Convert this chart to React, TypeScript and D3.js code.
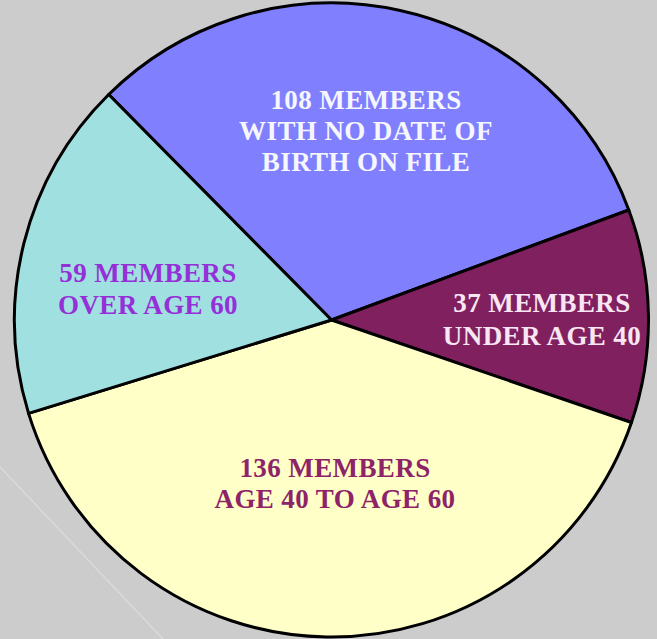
import React from "react";
import * as d3 from "d3";

const categories = ["NO DATE OF BIRTH", "UNDER AGE 40", "AGE 40 TO AGE 60", "OVER AGE 60"];
const values = [108, 37, 136, 59];
const labelLines = [
  ["108 MEMBERS", "WITH NO DATE OF", "BIRTH ON FILE"],
  ["37 MEMBERS", "UNDER AGE 40"],
  ["136 MEMBERS", "AGE 40 TO AGE 60"],
  ["59 MEMBERS", "OVER AGE 60"],
];
const sliceColors = ["#8080FF", "#80205F", "#FFFFC8", "#A0E0E0"];
const textColors = ["#F6F6FF", "#F8E6F4", "#8E2468", "#9530D8"];

const W = 657;
const H = 639;
const cx = 331.5;
const cy = 320;
const R = 317;

// label anchor positions (first-line baseline)
const labelPos = [
  { x: 366, y: 109, dy: 31 },
  { x: 542, y: 312, dy: 33 },
  { x: 335, y: 477, dy: 31 },
  { x: 148, y: 282, dy: 32 },
];

export default function App() {
  const pie = d3
    .pie<number>()
    .sort(null)
    .value((d) => d)
    .startAngle(-Math.PI / 4 + 0.006)
    .endAngle((7 * Math.PI) / 4 + 0.006);
  const arcs = pie(values);
  const arc = d3.arc<d3.PieArcDatum<number>>().innerRadius(0).outerRadius(R);

  return (
    <div style={{ position: "absolute", left: 0, top: 0 }}>
      <svg width={W} height={H} style={{ display: "block" }}>
        <rect x={0} y={0} width={W} height={H} fill="#CCCCCC" />
        <line x1={0} y1={467} x2={163} y2={639} stroke="#DADADA" strokeWidth={1.5} />
        <g transform={`translate(${cx},${cy})`}>
          {arcs.map((a, i) => (
            <path
              key={categories[i]}
              d={arc(a) || ""}
              fill={sliceColors[i]}
              stroke="#000"
              strokeWidth={3}
              strokeLinejoin="round"
            />
          ))}
        </g>
        {labelLines.map((lines, i) => (
          <text
            key={"t" + i}
            fontFamily="'Liberation Serif', 'Times New Roman', serif"
            fontWeight="bold"
            fontSize={27}
            letterSpacing={0.4}
            fill={textColors[i]}
            textAnchor="middle"
          >
            {lines.map((ln, j) => (
              <tspan key={j} x={labelPos[i].x} y={labelPos[i].y + j * labelPos[i].dy}>
                {ln}
              </tspan>
            ))}
          </text>
        ))}
      </svg>
    </div>
  );
}
